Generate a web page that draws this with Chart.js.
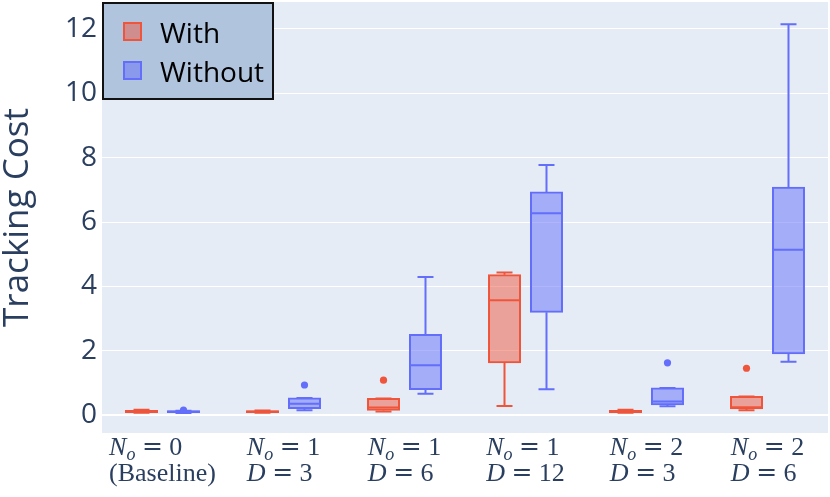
<!DOCTYPE html>
<html>
<head>
<meta charset="utf-8">
<script src="https://cdn.jsdelivr.net/npm/chart.js@4/dist/chart.umd.min.js"></script>
<style>
  html, body { margin: 0; padding: 0; background: #fff; }
  #wrap { width: 830px; height: 497px; position: relative; }
</style>
</head>
<body>
<div id="wrap"><canvas id="boxChart"></canvas></div>
<script>
// categories: N_o value (first line) and D value (second line)
var noValues = ['0', '1', '1', '1', '2', '2'];
var dValues = ['(Baseline)', '3', '6', '12', '3', '6'];

// "With" boxes
var withMin    = [0.08, 0.08, 0.12, 0.29, 0.08, 0.16];
var withQ1     = [0.09, 0.09, 0.16, 1.63, 0.09, 0.20];
var withMedian = [0.12, 0.11, 0.24, 3.57, 0.12, 0.25];
var withQ3     = [0.15, 0.14, 0.52, 4.36, 0.15, 0.58];
var withMax    = [0.17, 0.15, 0.52, 4.43, 0.17, 0.58];
var withOutliers = [[], [], [1.09], [], [], [1.46]];

// "Without" boxes
var withoutMin    = [0.07, 0.16, 0.67, 0.81, 0.28, 1.66];
var withoutQ1     = [0.09, 0.21, 0.80, 3.20, 0.33, 1.91];
var withoutMedian = [0.11, 0.36, 1.55, 6.27, 0.43, 5.14];
var withoutQ3     = [0.14, 0.54, 2.51, 6.93, 0.85, 7.08];
var withoutMax    = [0.14, 0.54, 4.29, 7.77, 0.85, 12.14];
var withoutOutliers = [[0.16], [0.94], [], [], [1.63], []];

var yTicks = [0, 2, 4, 6, 8, 10, 12];
var yMin = -0.55;
var yMax = 12.83;

var fontColor = '#2a3f5f';

var labels = noValues.map(function (n, i) {
    return 'N_o = ' + n + ' ' + dValues[i];
});

// fond de la zone de tracé
var plotBackground = {
    id: 'plotBackground',
    beforeDraw: function (chart) {
        var a = chart.chartArea, ctx = chart.ctx;
        ctx.save();
        ctx.fillStyle = '#E5ECF6';
        ctx.fillRect(a.left, a.top, a.right - a.left, a.bottom - a.top);
        ctx.restore();
    }
};

// moustaches, médianes et points aberrants
var boxExtras = {
    id: 'boxExtras',
    afterDatasetsDraw: function (chart) {
        var ctx = chart.ctx, y = chart.scales.y;
        ctx.save();
        chart.data.datasets.forEach(function (ds, di) {
            var meta = chart.getDatasetMeta(di);
            ctx.strokeStyle = ds.borderColor;
            ctx.fillStyle = ds.borderColor;
            ctx.lineWidth = 2;
            meta.data.forEach(function (bar, i) {
                var x = bar.x, w = bar.width;
                var pMin = y.getPixelForValue(ds.stats.min[i]);
                var pMax = y.getPixelForValue(ds.stats.max[i]);
                var pQ1 = y.getPixelForValue(ds.data[i][0]);
                var pQ3 = y.getPixelForValue(ds.data[i][1]);
                var pMed = y.getPixelForValue(ds.stats.median[i]);
                ctx.beginPath();
                // moustache haute
                ctx.moveTo(x, pQ3); ctx.lineTo(x, pMax);
                ctx.moveTo(x - w / 4, pMax); ctx.lineTo(x + w / 4, pMax);
                // moustache basse
                ctx.moveTo(x, pQ1); ctx.lineTo(x, pMin);
                ctx.moveTo(x - w / 4, pMin); ctx.lineTo(x + w / 4, pMin);
                // médiane
                ctx.moveTo(x - w / 2, pMed); ctx.lineTo(x + w / 2, pMed);
                ctx.stroke();
                ds.stats.outliers[i].forEach(function (v) {
                    ctx.beginPath();
                    ctx.arc(x, y.getPixelForValue(v), 3.6, 0, Math.PI * 2);
                    ctx.fill();
                });
            });
        });
        ctx.restore();
    }
};

// étiquettes de l'axe x en notation mathématique
function segmentsFor(i) {
    var eq = [{ t: ' ' }, { t: '=', op: true }, { t: ' ' + noValues[i] }];
    var line1 = [{ t: 'N', it: true }, { t: 'o', it: true, sub: true }].concat(eq);
    var line2 = dValues[i].charAt(0) === '('
        ? [{ t: dValues[i] }]
        : [{ t: 'D', it: true }, { t: ' ' }, { t: '=', op: true }, { t: ' ' + dValues[i] }];
    return [line1, line2];
}

function segFont(s) {
    if (s.op) return '25px "DejaVu Serif", serif';
    return (s.it ? 'italic ' : '') + (s.sub ? '18px' : '26px') + ' "Liberation Serif", serif';
}

function lineWidth(ctx, segs) {
    var w = 0;
    segs.forEach(function (s) { ctx.font = segFont(s); w += ctx.measureText(s.t).width; });
    return w;
}

var mathLabels = {
    id: 'mathLabels',
    afterDraw: function (chart) {
        var ctx = chart.ctx, xs = chart.scales.x;
        ctx.save();
        ctx.fillStyle = fontColor;
        ctx.textBaseline = 'alphabetic';
        ctx.textAlign = 'left';
        labels.forEach(function (lab, i) {
            var cx = xs.getPixelForValue(i);
            var lines = segmentsFor(i);
            var bw = Math.max(lineWidth(ctx, lines[0]), lineWidth(ctx, lines[1]));
            var left = cx - bw / 2;
            var baselines = [chart.chartArea.bottom + 22, chart.chartArea.bottom + 48];
            lines.forEach(function (segs, li) {
                var x = left;
                segs.forEach(function (s) {
                    ctx.font = segFont(s);
                    ctx.fillText(s.t, x, baselines[li] + (s.sub ? 5 : 0) + (s.op ? -1 : 0));
                    x += ctx.measureText(s.t).width;
                });
            });
        });
        ctx.restore();
    }
};

// légende dans le coin supérieur gauche
var boxLegend = {
    id: 'boxLegend',
    afterDraw: function (chart) {
        var ctx = chart.ctx, a = chart.chartArea;
        var left = a.left + 1, top = a.top + 1, w = 170, h = 96;
        ctx.save();
        ctx.fillStyle = 'rgb(176,196,222)';
        ctx.fillRect(left, top, w, h);
        ctx.strokeStyle = '#111';
        ctx.lineWidth = 2;
        ctx.strokeRect(left, top, w, h);
        ctx.font = '28px "Open Sans", sans-serif';
        ctx.textBaseline = 'alphabetic';
        chart.data.datasets.forEach(function (ds, i) {
            var sy = top + 20 + i * 39;
            ctx.fillStyle = ds.backgroundColor;
            ctx.fillRect(left + 21, sy, 17, 17);
            ctx.strokeStyle = ds.borderColor;
            ctx.lineWidth = 2;
            ctx.strokeRect(left + 21, sy, 17, 17);
            ctx.fillStyle = '#000';
            ctx.fillText(ds.label, left + 57, sy + 20);
        });
        ctx.restore();
    }
};

function noAxisPadding(s) {
    s.paddingTop = 0;
    s.paddingBottom = 0;
    s.paddingLeft = 0;
    s.paddingRight = 0;
}

var ctx = document.getElementById('boxChart').getContext('2d');
var boxChart = new Chart(ctx, {
    type: 'bar',
    data: {
        labels: labels,
        datasets: [{
            label: 'With',
            data: withQ1.map(function (q, i) { return [q, withQ3[i]]; }),
            backgroundColor: 'rgba(239,85,59,0.5)',
            borderColor: 'rgb(239,85,59)',
            stats: { min: withMin, median: withMedian, max: withMax, outliers: withOutliers }
        }, {
            label: 'Without',
            data: withoutQ1.map(function (q, i) { return [q, withoutQ3[i]]; }),
            backgroundColor: 'rgba(99,110,250,0.5)',
            borderColor: 'rgb(99,110,250)',
            stats: { min: withoutMin, median: withoutMedian, max: withoutMax, outliers: withoutOutliers }
        }]
    },
    options: {
        responsive: true,
        maintainAspectRatio: false,
        animation: false,
        devicePixelRatio: 1,
        layout: { autoPadding: false, padding: { top: 2, right: 2, left: 0, bottom: 0 } },
        datasets: {
            bar: {
                borderWidth: 1,
                borderSkipped: false,
                inflateAmount: 0.5,
                categoryPercentage: 0.694,
                barPercentage: 0.762
            }
        },
        plugins: {
            legend: { display: false },
            tooltip: { enabled: false }
        },
        scales: {
            x: {
                grid: { display: false },
                border: { display: false },
                ticks: { display: false },
                afterFit: function (s) { s.height = 64; noAxisPadding(s); }
            },
            y: {
                min: yMin,
                max: yMax,
                afterBuildTicks: function (s) {
                    s.ticks = yTicks.map(function (v) { return { value: v }; });
                },
                grid: {
                    color: '#ffffff',
                    lineWidth: function (c) { return c.tick && c.tick.value === 0 ? 2 : 1; },
                    drawTicks: false
                },
                border: { display: false },
                ticks: {
                    font: { family: 'Open Sans', size: 28 },
                    color: fontColor,
                    padding: 5
                },
                title: {
                    display: true,
                    text: 'Tracking Cost',
                    font: { family: 'Open Sans', size: 35, lineHeight: 0.9 },
                    color: fontColor,
                    padding: { top: 2 }
                },
                afterFit: function (s) { s.width = 102; noAxisPadding(s); }
            }
        }
    },
    plugins: [plotBackground, boxExtras, mathLabels, boxLegend]
});
</script>
</body>
</html>
